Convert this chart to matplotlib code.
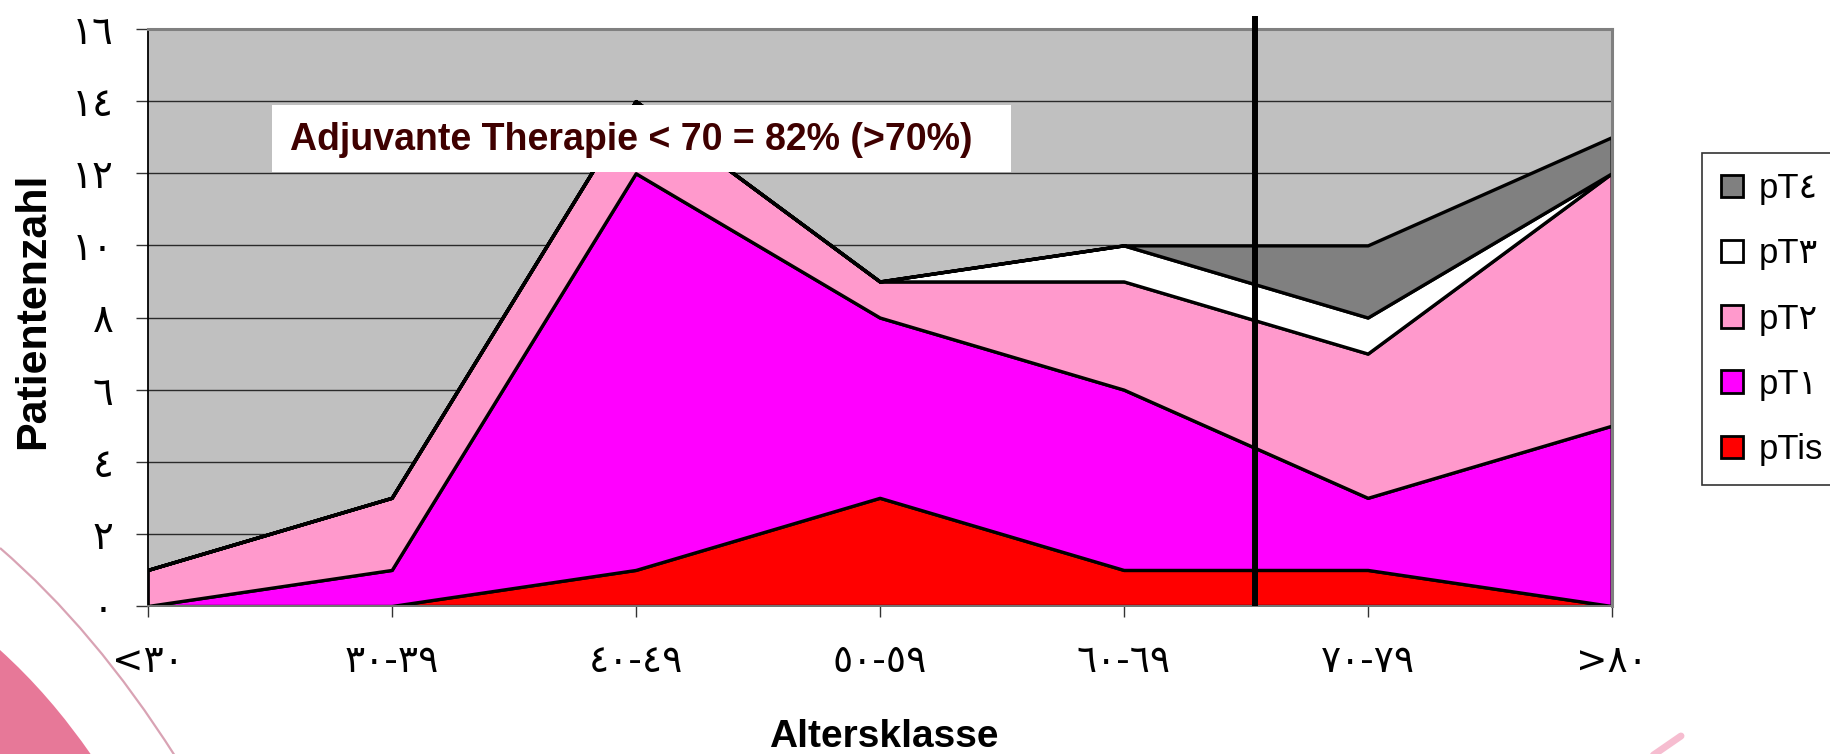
import matplotlib
matplotlib.use("Agg")
import matplotlib.pyplot as plt
from matplotlib import font_manager as fm
from matplotlib.patches import Patch, Rectangle, PathPatch
from matplotlib.path import Path
from matplotlib.font_manager import FontProperties

# ---------------- data ----------------
CATEGORIES = ["<٣٠", "٣٠-٣٩", "٤٠-٤٩", "٥٠-٥٩", "٦٠-٦٩", "٧٠-٧٩", ">٨٠"]
SERIES_NAMES = ["pTis", "pT١", "pT٢", "pT٣", "pT٤"]
PTIS = [0, 0, 1, 3, 1, 1, 0]
PT1 = [0, 1, 11, 5, 5, 2, 5]
PT2 = [1, 2, 2, 1, 3, 4, 7]
PT3 = [0, 0, 0, 0, 1, 1, 0]
PT4 = [0, 0, 0, 0, 0, 2, 1]
Y_TICKS = [0, 2, 4, 6, 8, 10, 12, 14, 16]
Y_TICK_LABELS = ["٠", "٢", "٤", "٦", "٨", "١٠", "١٢", "١٤", "١٦"]
CUTOFF_X = 4.54          # position of the age-70 divider between 60-69 and 70-79
CUTOFF_TOP = 16.36
ANNOTATION = "Adjuvante Therapie < 70 = 82% (>70%)"
X_LABEL = "Altersklasse"
Y_LABEL = "Patientenzahl"

COLORS = ["#FF0000", "#FF00FF", "#FF99CC", "#FFFFFF", "#808080"]

W, H = 1831, 754

names = {f.name for f in fm.fontManager.ttflist}
NARROW = "Liberation Sans Narrow" if "Liberation Sans Narrow" in names else "Liberation Sans"
IS_NARROW = NARROW == "Liberation Sans Narrow"

fig = plt.figure(figsize=(W / 100, H / 100), dpi=100)
fig.patch.set_facecolor("white")


def fx(px):
    return px / W


def fy(py):
    return 1 - py / H


# ---------------- slide decoration (pink swooshes) ----------------
band = Path(
    [(fx(0), fy(650)), (fx(50), fy(695)), (fx(92), fy(756)),
     (fx(0), fy(756)), (fx(0), fy(650))],
    [Path.MOVETO, Path.CURVE3, Path.CURVE3, Path.LINETO, Path.CLOSEPOLY],
)
fig.add_artist(PathPatch(band, transform=fig.transFigure, facecolor="#E77898",
                         edgecolor="none", zorder=-2))
thin = Path([(fx(0), fy(548)), (fx(95), fy(630)), (fx(175), fy(756))],
            [Path.MOVETO, Path.CURVE3, Path.CURVE3])
fig.add_artist(PathPatch(thin, transform=fig.transFigure, facecolor="none",
                         edgecolor="#D9A3B4", lw=1.6, zorder=-2))
fig.add_artist(plt.Line2D([fx(1652), fx(1681)], [fy(756), fy(736)], transform=fig.transFigure,
                          color="#F6BDD0", lw=5, solid_capstyle="round", zorder=-2))

# ---------------- axes ----------------
ax = fig.add_axes([fx(147.7), fy(606), (1611.7 - 147.7) / W, (606 - 29) / H])
ax.set_facecolor("#C0C0C0")
x = list(range(len(CATEGORIES)))
ax.stackplot(x, PTIS, PT1, PT2, PT3, PT4, colors=COLORS, edgecolor="black",
             linewidth=2.4, zorder=2)
ax.set_xlim(0, len(CATEGORIES) - 1)
ax.set_ylim(0, 16)
ax.set_axisbelow(True)
ax.yaxis.grid(True, color="#2A2A2A", lw=1.0)

ax.set_yticks(Y_TICKS)
ax.set_yticklabels(Y_TICK_LABELS, fontfamily="DejaVu Sans", fontsize=28)
ax.set_xticks(x)
ax.set_xticklabels(CATEGORIES, fontfamily="DejaVu Sans", fontsize=27)
ax.tick_params(axis="y", direction="out", length=8.6, width=1.0, color="#333333", pad=16)
ax.tick_params(axis="x", direction="out", length=8, width=1.0, color="#333333", pad=19)

for s in ("top", "right"):
    ax.spines[s].set_color("#808080")
    ax.spines[s].set_linewidth(2.2)
ax.spines["left"].set_color("black")
ax.spines["left"].set_linewidth(1.3)
ax.spines["bottom"].set_color("#808080")
ax.spines["bottom"].set_linewidth(1.3)

# divider line at age 70
ax.plot([CUTOFF_X, CUTOFF_X], [0, CUTOFF_TOP], color="black", lw=4.3,
        clip_on=False, zorder=10, solid_capstyle="butt")

# annotation box
ax.add_patch(Rectangle((fx(272), fy(172)), fx(1011) - fx(272), fy(105) - fy(172),
                       transform=fig.transFigure, facecolor="white", edgecolor="none",
                       zorder=8, clip_on=False))
ax.text(fx(290), fy(140), ANNOTATION, transform=fig.transFigure, ha="left", va="center",
        fontfamily=[NARROW, "DejaVu Sans"], fontweight="bold",
        fontsize=32.5 if IS_NARROW else 27, color="#3F0000", zorder=9)

# axis labels
fig.text(fx(884), fy(737), X_LABEL, ha="center", va="center",
         fontfamily=[NARROW, "DejaVu Sans"], fontweight="bold",
         fontsize=33 if IS_NARROW else 28, color="black")
fig.text(fx(33), fy(311), Y_LABEL, ha="center", va="center", rotation=90,
         fontfamily=["Liberation Sans", "DejaVu Sans"], fontweight="bold",
         fontsize=31, color="black")

# legend
handles = [Patch(facecolor=c, edgecolor="black", lw=2, label=n)
           for c, n in zip(COLORS, SERIES_NAMES)][::-1]
leg = fig.legend(handles=handles, loc="upper left",
                 bbox_to_anchor=(fx(1702), fy(153)), bbox_transform=fig.transFigure,
                 frameon=True, fancybox=False, edgecolor="black",
                 prop=FontProperties(family=["Liberation Sans", "DejaVu Sans"], size=25),
                 handlelength=0.62, handleheight=0.62, handletextpad=0.45,
                 borderpad=0.55, labelspacing=0.93, borderaxespad=0)
leg.get_frame().set_linewidth(1.2)

fig.savefig("out.png", dpi=100)
